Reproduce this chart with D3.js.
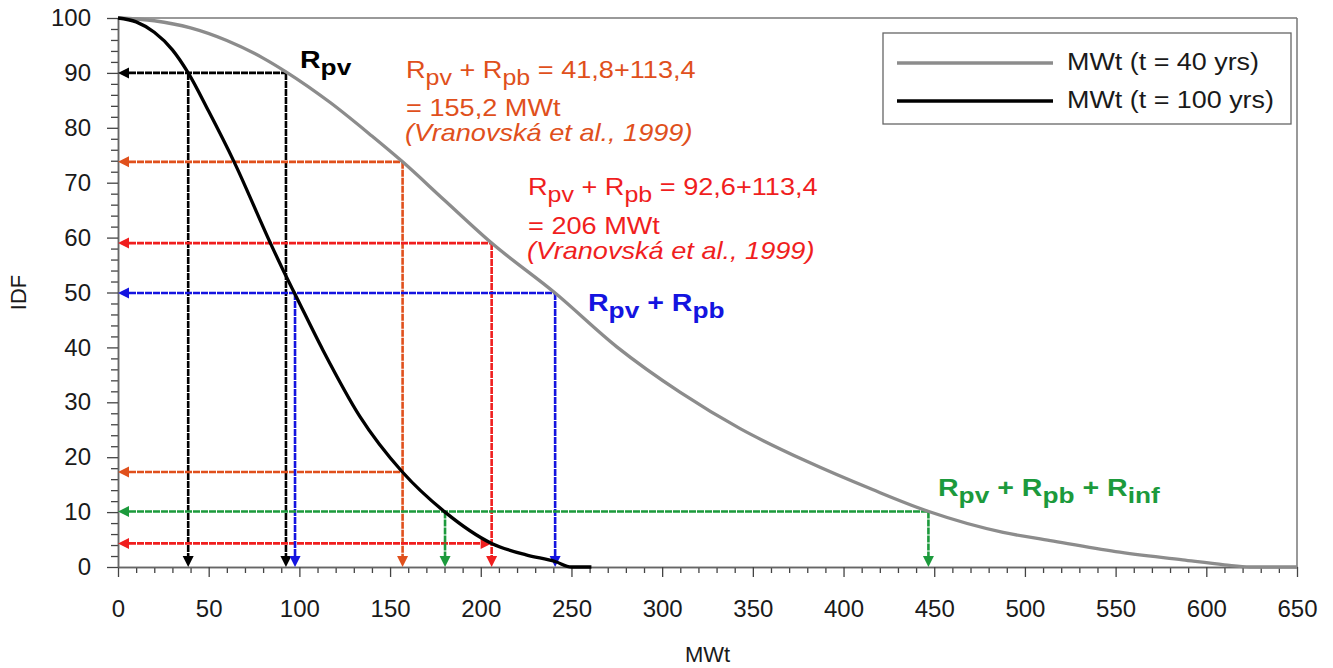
<!DOCTYPE html>
<html>
<head>
<meta charset="utf-8">
<script src="https://cdn.jsdelivr.net/npm/d3@7"></script>
<style>
  body { margin: 0; background: #fff; }
  text { font-family: "Liberation Sans", Arial, sans-serif; }
</style>
</head>
<body>
<div id="chart"></div>
<script>
// IDF curve, t = 40 yrs (grey)
const mwt40 = [0, 20, 40, 60, 80, 92.6, 117, 140, 156.9, 180, 206, 241, 275, 310, 343, 380, 416, 447, 488, 514, 550, 587, 610, 624, 650];
const idf40 = [100, 99.5, 98.2, 95.9, 92.7, 90.2, 84.6, 78.5, 73.8, 66.8, 59, 49.9, 40.1, 31.8, 25.2, 19.2, 14.1, 10.1, 6.3, 4.8, 2.8, 1.3, 0.4, 0, 0];

// IDF curve, t = 100 yrs (black)
const mwt100 = [0, 10, 20, 30, 38.7, 50, 64, 84.3, 92.6, 97.6, 113, 133.4, 156.8, 180.3, 206, 225, 241, 250, 261];
const idf100 = [100, 99.3, 97.4, 94.2, 90, 83, 73.8, 58.8, 53, 49.7, 39.5, 27.4, 17.3, 10, 4.3, 2.2, 1, 0, 0];

const xTicks = d3.range(0, 651, 50);
const yTicks = d3.range(0, 101, 10);

// guide lines: level on the t=40 curve, where it hits t=40, and the matching point on t=100
const guideLevel = [90, 73.8, 59, 49.9, 10.1];
const guideMwt40 = [92.6, 156.9, 206, 241, 446.8];
const guideMwt100 = [38.7, null, null, 97.6, 180.3];
const guideIdf100 = [null, 17.3, 4.3, null, null];
const guideColor = ["#000000", "#e0501c", "#f01e1e", "#1414e0", "#1c9a3c"];

const width = 1333, height = 668;
const x = d3.scaleLinear().domain([0, 650]).range([118, 1297]);
const y = d3.scaleLinear().domain([0, 100]).range([567, 18]);

const svg = d3.select("#chart").append("svg")
  .attr("width", width)
  .attr("height", height);

svg.append("rect").attr("width", width).attr("height", height).attr("fill", "white");

// frame top / right
svg.append("line")
  .attr("x1", x(0)).attr("x2", x(650)).attr("y1", y(100)).attr("y2", y(100))
  .attr("stroke", "#777").attr("stroke-width", 1.5);
svg.append("line")
  .attr("x1", x(650)).attr("x2", x(650)).attr("y1", y(100)).attr("y2", y(0))
  .attr("stroke", "#777").attr("stroke-width", 1.5);

// axes
function styleAxis(g) {
  g.select(".domain").attr("stroke", "#666").attr("stroke-width", 1.5);
  g.selectAll(".tick line").attr("stroke", "#444").attr("stroke-width", 1.3);
  g.selectAll(".tick text").attr("fill", "#1a1a1a").attr("font-size", 24)
    .attr("font-family", "Liberation Sans, Arial, sans-serif");
}

svg.append("g")
  .attr("transform", `translate(0,${y(0)})`)
  .call(d3.axisBottom(x).tickValues(d3.range(0, 651, 10).filter(v => v % 50)).tickSize(6).tickFormat("").tickSizeOuter(0))
  .call(styleAxis);
svg.append("g")
  .attr("transform", `translate(0,${y(0)})`)
  .call(d3.axisBottom(x).tickValues(xTicks).tickSize(10).tickPadding(23).tickSizeOuter(0))
  .call(styleAxis);

svg.append("g")
  .attr("transform", `translate(${x(0)},0)`)
  .call(d3.axisLeft(y).tickValues(d3.range(0, 101, 2).filter(v => v % 10)).tickSize(7).tickFormat("").tickSizeOuter(0))
  .call(styleAxis);
svg.append("g")
  .attr("transform", `translate(${x(0)},0)`)
  .call(d3.axisLeft(y).tickValues(yTicks).tickSize(11).tickPadding(16).tickSizeOuter(0))
  .call(styleAxis);

// axis titles
svg.append("text")
  .text("MWt")
  .attr("x", (x(0) + x(650)) / 2).attr("y", 662)
  .attr("text-anchor", "middle").attr("font-size", 22).attr("fill", "#1a1a1a");
svg.append("text")
  .text("IDF")
  .attr("text-anchor", "middle").attr("font-size", 22).attr("fill", "#1a1a1a")
  .attr("transform", `translate(26,${y(50)}) rotate(-90)`);

// guide lines with arrows
const guides = svg.append("g");
const aLen = 11, aHalf = 5.5;

function arrow(px, py, dir, color) {
  let pts;
  if (dir === "left") pts = [[px, py], [px + aLen, py - aHalf], [px + aLen, py + aHalf]];
  else if (dir === "right") pts = [[px, py], [px - aLen, py - aHalf], [px - aLen, py + aHalf]];
  else pts = [[px, py], [px - aHalf, py - aLen], [px + aHalf, py - aLen]];
  guides.append("path")
    .attr("d", "M" + pts.join("L") + "Z")
    .attr("fill", color);
}

function dashed(x1, y1, x2, y2, color) {
  guides.append("line")
    .attr("x1", x1).attr("y1", y1).attr("x2", x2).attr("y2", y2)
    .attr("stroke", color).attr("stroke-width", 2.6)
    .attr("stroke-dasharray", "7,1");
}

function hGuide(level, mwt, color, rightArrow) {
  const py = y(level);
  const xEnd = rightArrow ? x(mwt) - aLen : x(mwt);
  dashed(x(0) + aLen, py, xEnd, py, color);
  arrow(x(0), py, "left", color);
  if (rightArrow) arrow(x(mwt), py, "right", color);
}

function vGuide(mwt, level, color) {
  const px = x(mwt);
  dashed(px, y(level), px, y(0) - aLen, color);
  arrow(px, y(0), "down", color);
}

guideLevel.forEach((lv, i) => {
  const c = guideColor[i];
  hGuide(lv, guideMwt40[i], c, false);
  vGuide(guideMwt40[i], lv, c);
  if (guideMwt100[i] !== null) vGuide(guideMwt100[i], lv, c);
  if (guideIdf100[i] !== null) hGuide(guideIdf100[i], guideMwt40[i], c, i === 2);
});

// curves
const line = d3.line()
  .x(d => x(d[0]))
  .y(d => y(d[1]))
  .curve(d3.curveMonotoneX);

svg.append("path")
  .datum(d3.zip(mwt40, idf40))
  .attr("d", line)
  .attr("fill", "none")
  .attr("stroke", "#8c8c8c")
  .attr("stroke-width", 3.3);

svg.append("path")
  .datum(d3.zip(mwt100, idf100))
  .attr("d", line)
  .attr("fill", "none")
  .attr("stroke", "#000")
  .attr("stroke-width", 3.3);

// annotations with subscripts
function rich(px, py, parts, opt) {
  const t = svg.append("text")
    .attr("transform", `translate(${px},${py}) scale(${opt.sx},1)`)
    .attr("fill", opt.color)
    .attr("font-size", opt.size)
    .attr("font-weight", opt.bold ? "bold" : "normal")
    .attr("font-style", opt.italic ? "italic" : "normal");
  let shifted = false;
  parts.forEach(p => {
    const sub = Array.isArray(p);
    const s = t.append("tspan").text(sub ? p[0] : p);
    if (sub) {
      s.attr("font-size", opt.size * 0.92);
      if (!shifted) { s.attr("dy", 7); shifted = true; }
    } else if (shifted) {
      s.attr("dy", -7); shifted = false;
    }
  });
  return t;
}

const boldOpt = c => ({ color: c, size: 24, bold: true, sx: 1.19 });
const normOpt = c => ({ color: c, size: 23, sx: 1.18 });
const italOpt = c => ({ color: c, size: 23, italic: true, sx: 1.18 });

rich(300, 68, ["R", ["pv"]], boldOpt(guideColor[0]));

rich(406, 78, ["R", ["pv"], " + R", ["pb"], " = 41,8+113,4"], normOpt(guideColor[1]));
rich(406, 116, ["= 155,2 MWt"], normOpt(guideColor[1]));
rich(405, 141, ["(Vranovská et al., 1999)"], italOpt(guideColor[1]));

rich(528, 195, ["R", ["pv"], " + R", ["pb"], " = 92,6+113,4"], normOpt(guideColor[2]));
rich(528, 234, ["= 206 MWt"], normOpt(guideColor[2]));
rich(527, 259, ["(Vranovská et al., 1999)"], italOpt(guideColor[2]));

rich(588, 311, ["R", ["pv"], " + R", ["pb"]], boldOpt(guideColor[3]));
rich(938, 496, ["R", ["pv"], " + R", ["pb"], " + R", ["inf"]], boldOpt(guideColor[4]));

// legend
const legend = svg.append("g");
legend.append("rect")
  .attr("x", 883).attr("y", 33).attr("width", 408).attr("height", 91)
  .attr("fill", "white").attr("stroke", "#666").attr("stroke-width", 1.3);
const legendItems = [["MWt (t = 40 yrs)", "#8c8c8c"], ["MWt (t = 100 yrs)", "#000"]];
legendItems.forEach((d, i) => {
  const ly = 63 + i * 38;
  legend.append("line")
    .attr("x1", 897).attr("x2", 1053).attr("y1", ly).attr("y2", ly)
    .attr("stroke", d[1]).attr("stroke-width", 3.3);
  legend.append("text")
    .text(d[0])
    .attr("transform", `translate(1067,${ly + 7}) scale(1.17,1)`)
    .attr("font-size", 23).attr("fill", "#1a1a1a");
});
</script>
</body>
</html>
